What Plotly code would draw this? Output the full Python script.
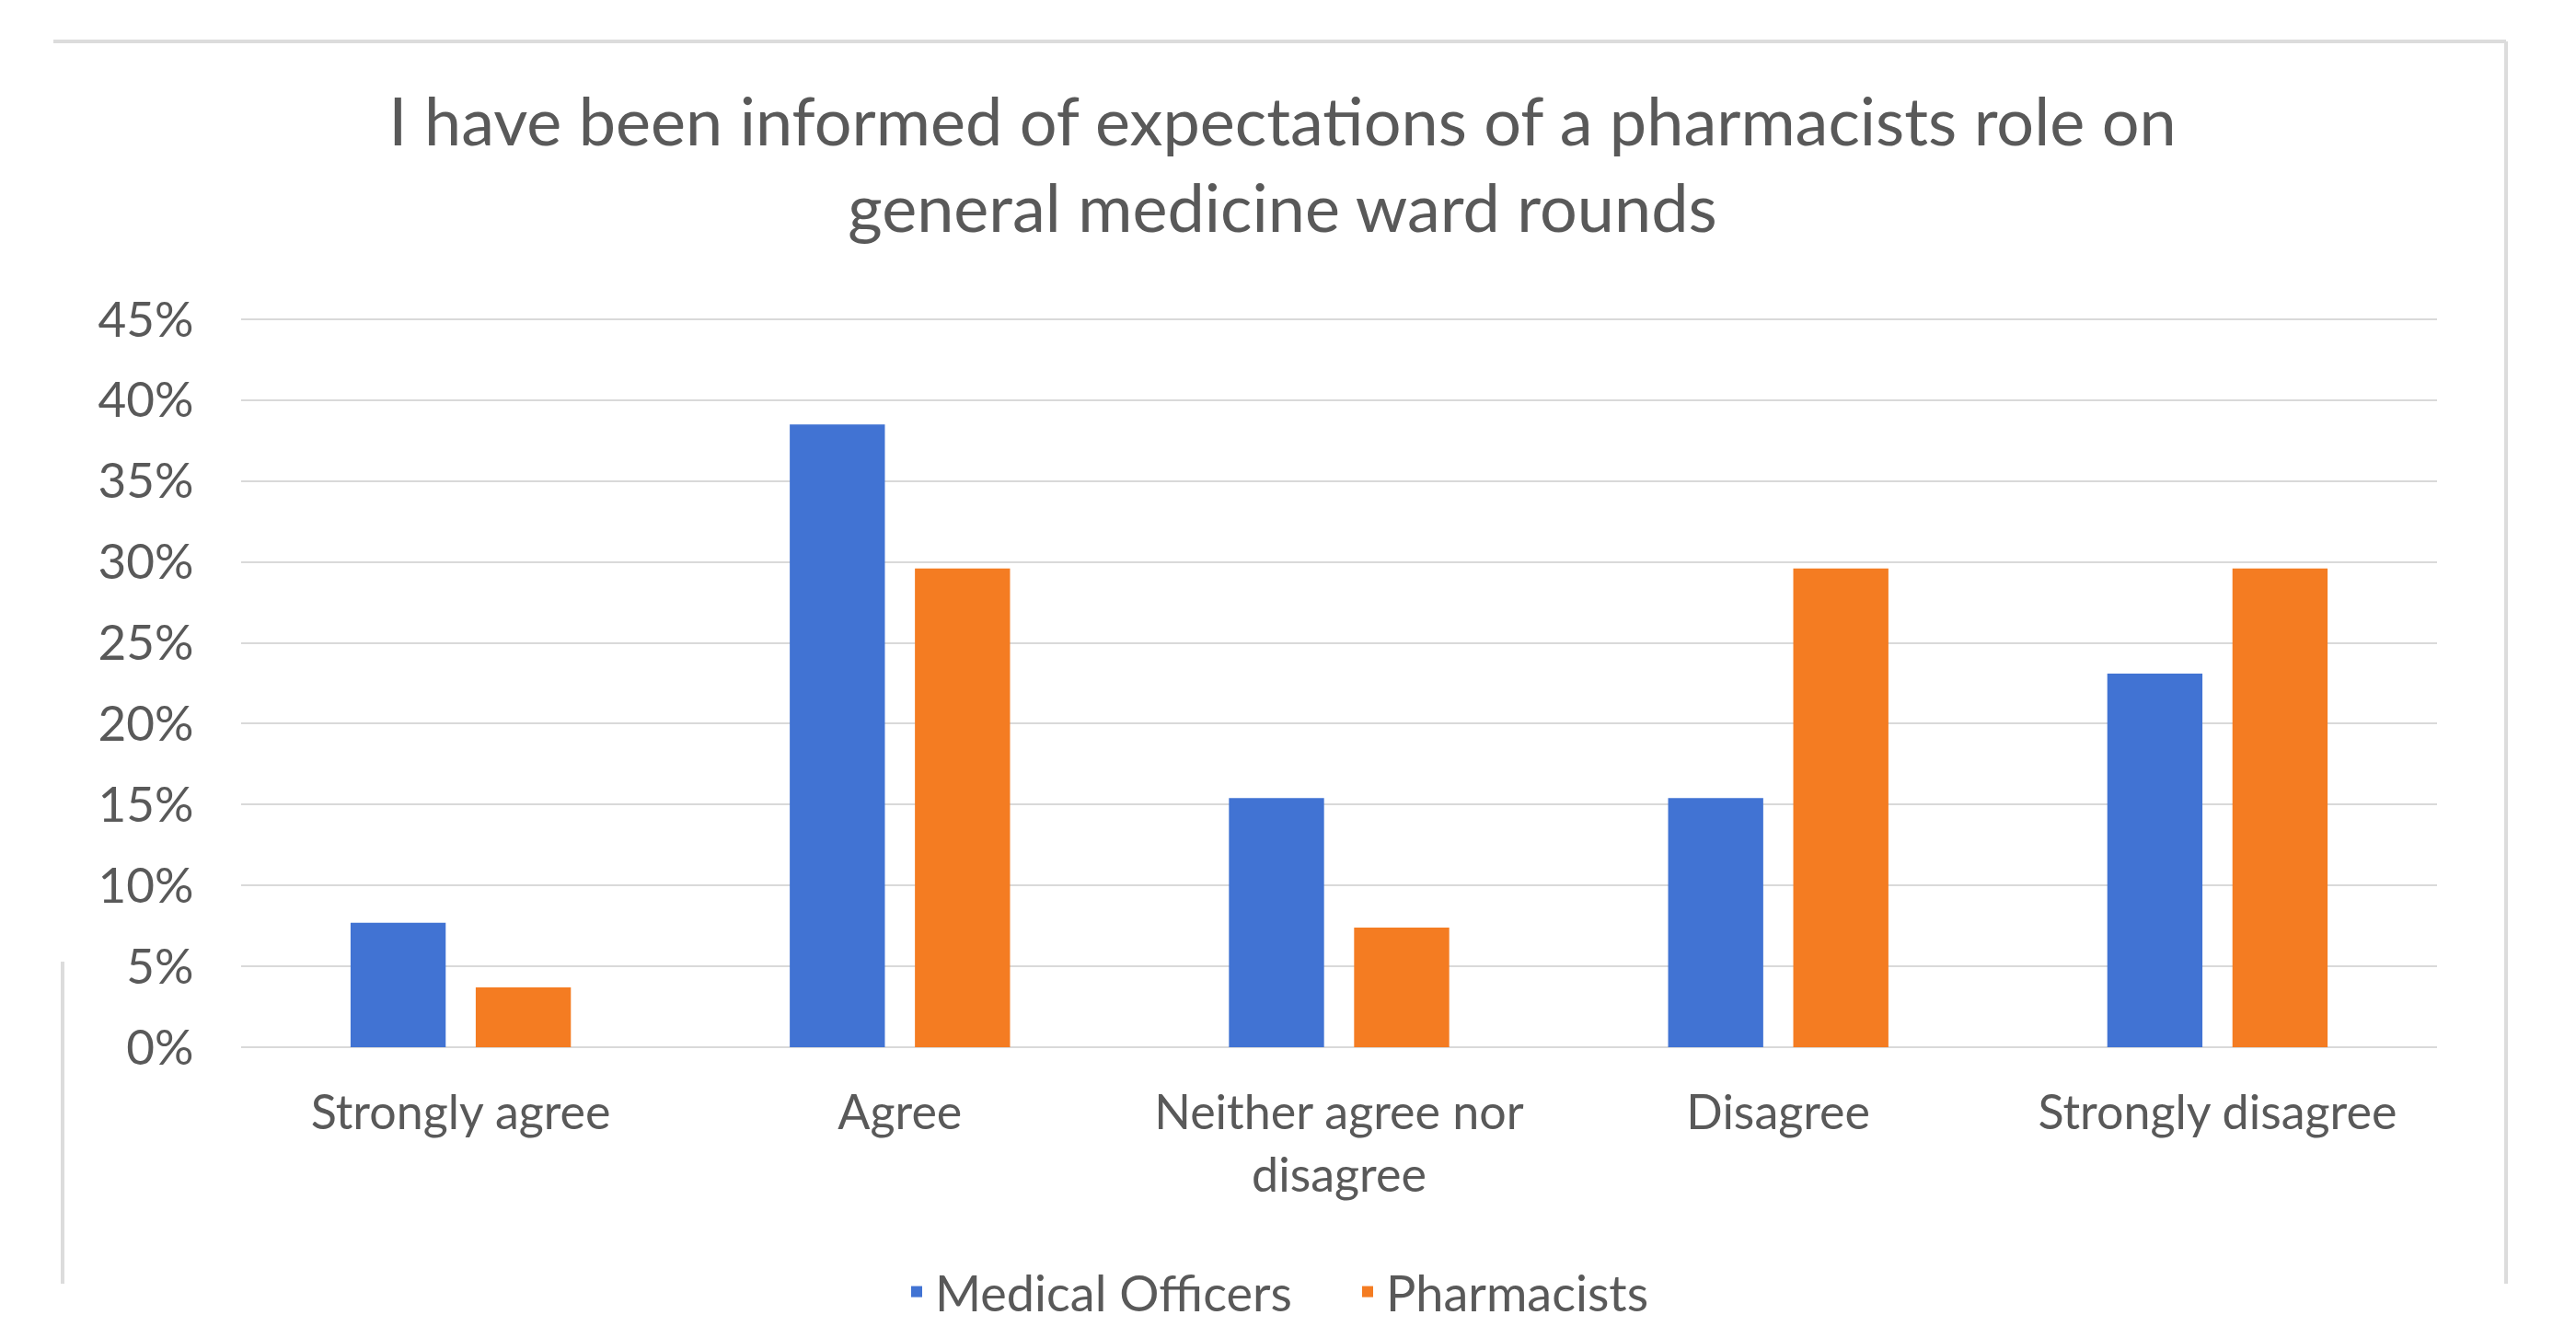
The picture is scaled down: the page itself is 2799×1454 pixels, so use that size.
import plotly.graph_objects as go

categories = ["Strongly agree", "Agree", "Neither agree nor<br>disagree", "Disagree", "Strongly disagree"]
medical_officers = [0.077, 0.385, 0.154, 0.154, 0.231]
pharmacists = [0.037, 0.296, 0.074, 0.296, 0.296]
tick_vals = [0, 0.05, 0.10, 0.15, 0.20, 0.25, 0.30, 0.35, 0.40, 0.45]
tick_text = ["0%", "5%", "10%", "15%", "20%", "25%", "30%", "35%", "40%", "45%"]

FONT = "Lato"
GREY = "#595959"
BORDER = "#dcdcdc"

L, R, T, B = 254, 2640, 333, 1130
PW, PH = R - L, B - T
YTOP = 0.45 * PH / (B - 339)


def px(x):
    return (x - L) / PW


def py(y):
    return (B - y) / PH


fig = go.Figure()
fig.add_trace(go.Bar(name="Medical Officers", x=categories, y=medical_officers,
                     marker=dict(color="#4173D3", line=dict(width=0))))
fig.add_trace(go.Bar(name="Pharmacists", x=categories, y=pharmacists,
                     marker=dict(color="#F47C22", line=dict(width=0))))

border_lines = [
    (50, 37, 2715, 37),
    (2715, 37, 2715, 1387),
    (60, 1037, 60, 1387),
]
shapes = [dict(type="line", xref="paper", yref="paper",
               x0=px(a), y0=py(b), x1=px(c), y1=py(d),
               line=dict(color=BORDER, width=4), layer="below")
          for a, b, c, d in border_lines]

fig.update_layout(
    width=2799, height=1454,
    paper_bgcolor="white", plot_bgcolor="white",
    margin=dict(l=L, r=2799 - R, t=T, b=1454 - B),
    barmode="group", bargap=0.43, bargroupgap=0.24,
    font=dict(family=FONT, color=GREY, size=50),
    title=dict(text="I have been informed of expectations of a pharmacists role on<br>general medicine ward rounds",
               x=0.495, xref="container", xanchor="center",
               y=1 - 150 / 1454, yref="container", yanchor="middle",
               font=dict(family=FONT, size=72, color=GREY)),
    legend=dict(orientation="h", x=px(968), xanchor="left", y=py(1396), yanchor="middle",
                font=dict(size=54, color=GREY), itemwidth=30, traceorder="normal",
                entrywidth=445, entrywidthmode="pixels"),
    showlegend=True,
    shapes=shapes,
)
fig.update_xaxes(showgrid=False, showline=False, ticks="outside", ticklen=26,
                 tickcolor="rgba(0,0,0,0)", tickfont=dict(size=52, color=GREY))
fig.update_yaxes(range=[0, YTOP], tickvals=tick_vals, ticktext=tick_text,
                 showgrid=True, gridcolor="#d9d9d9", gridwidth=2,
                 zeroline=True, zerolinecolor="#d9d9d9", zerolinewidth=2,
                 showline=False, ticks="outside", ticklen=40, tickcolor="rgba(0,0,0,0)",
                 tickfont=dict(size=53, color=GREY))

fig.write_html("out.html")
